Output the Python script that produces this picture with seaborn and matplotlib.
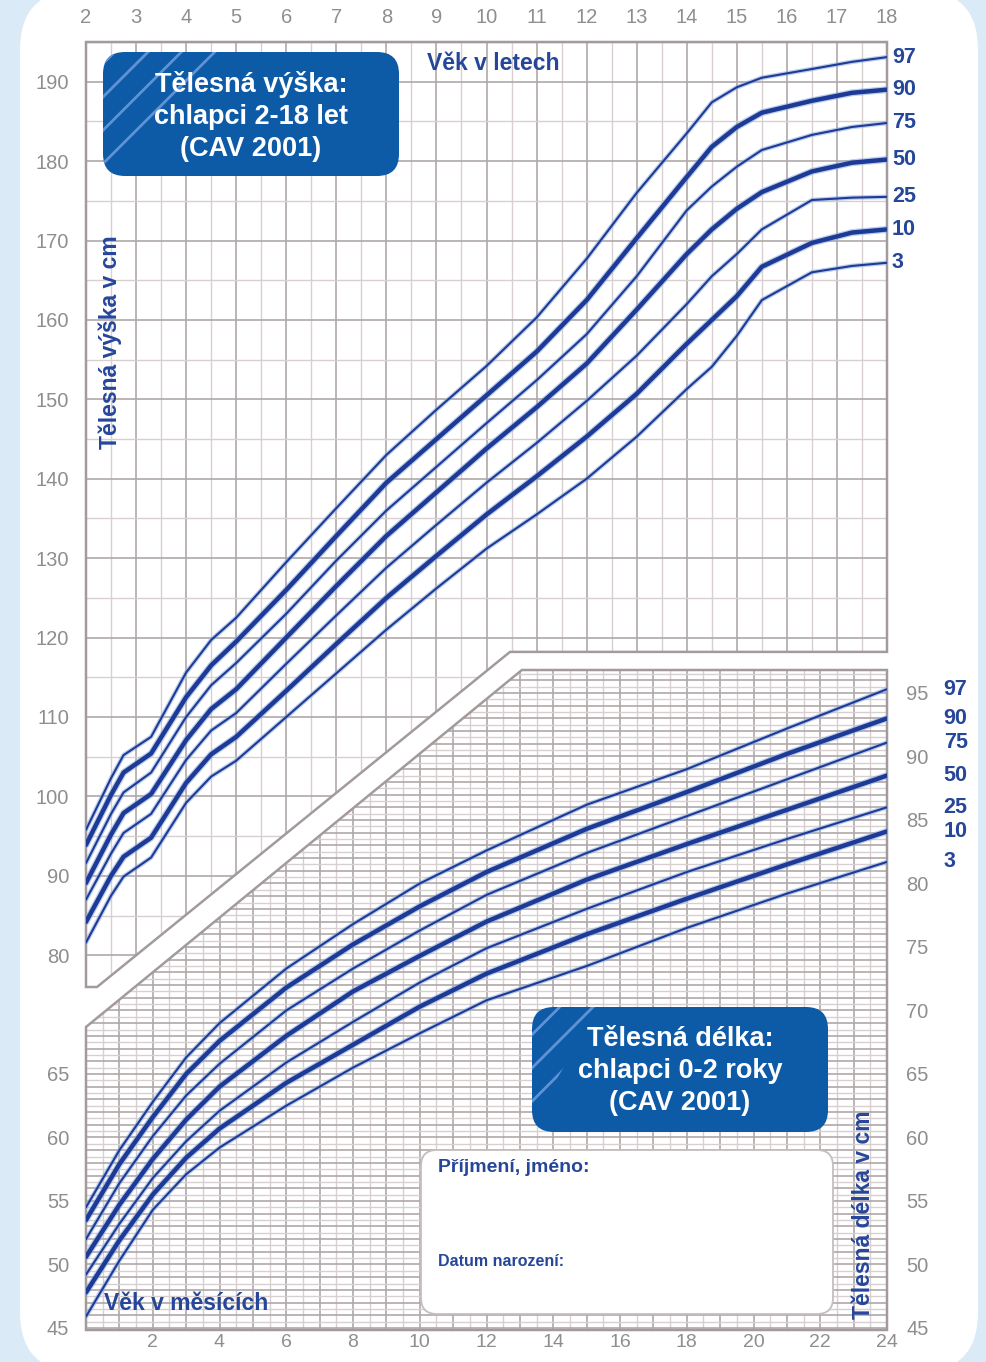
import numpy as np
import pandas as pd
import seaborn as sns
import matplotlib.pyplot as plt
import matplotlib.patheffects as pe
from matplotlib.patches import FancyBboxPatch, Polygon

sns.set_style("white")
plt.rcParams["font.family"] = ["Liberation Sans", "DejaVu Sans"]
plt.rcParams["hatch.linewidth"] = 2.0

pct_labels = ["97", "90", "75", "50", "25", "10", "3"]
thick = ["90", "50", "10"]

# height, boys 2-18 years (cm)
age_years = [2, 2.5, 2.75, 3.3, 4, 4.5, 5, 6, 7, 8, 9, 10, 11, 12, 13, 14, 14.5, 15, 15.5, 16.5, 17.3, 18]
h97 = [95.8, 102.3, 105.2, 107.5, 115.6, 119.7, 122.5, 129.5, 136.3, 143.0, 148.7, 154.2, 160.3, 167.7, 176.0, 183.5, 187.4, 189.3, 190.5, 191.6, 192.5, 193.1]
h90 = [93.9, 100.2, 103.0, 105.4, 112.5, 116.5, 119.5, 126.0, 132.8, 139.5, 145.0, 150.5, 156.0, 162.5, 170.3, 178.0, 181.8, 184.3, 186.1, 187.6, 188.6, 189.0]
h75 = [91.6, 97.8, 100.5, 103.0, 110.0, 114.0, 116.8, 123.0, 129.7, 136.0, 141.5, 147.0, 152.4, 158.2, 165.5, 173.8, 176.8, 179.3, 181.4, 183.3, 184.3, 184.8]
h50 = [89.1, 95.2, 97.9, 100.3, 107.1, 111.0, 113.5, 120.0, 126.5, 132.8, 138.3, 143.8, 149.0, 154.5, 161.3, 168.3, 171.4, 174.0, 176.1, 178.7, 179.8, 180.2]
h25 = [87.0, 92.8, 95.4, 97.8, 104.6, 108.3, 110.5, 116.7, 122.8, 128.8, 134.2, 139.5, 144.5, 149.8, 155.5, 162.0, 165.5, 168.3, 171.4, 175.1, 175.4, 175.5]
h10 = [84.2, 90.0, 92.4, 94.8, 101.7, 105.3, 107.5, 113.3, 119.2, 125.0, 130.3, 135.5, 140.3, 145.3, 150.7, 157.0, 160.0, 163.0, 166.7, 169.7, 171.0, 171.4]
h3 = [81.6, 87.5, 89.9, 92.3, 99.2, 102.5, 104.5, 110.0, 115.5, 121.0, 126.2, 131.2, 135.5, 140.0, 145.3, 151.3, 154.1, 158.0, 162.5, 166.0, 166.8, 167.2]

# length, boys 0-24 months (cm)
age_months = [0, 1, 2, 3, 4, 6, 8, 10, 12, 15, 18, 21, 24]
l97 = [54.5, 59.0, 62.8, 66.3, 69.0, 73.3, 76.8, 80.0, 82.6, 86.2, 89.0, 92.2, 95.3]
l90 = [53.5, 57.9, 61.6, 65.0, 67.6, 71.8, 75.2, 78.2, 80.9, 84.3, 87.2, 90.2, 93.0]
l75 = [52.0, 56.4, 60.1, 63.3, 65.8, 70.0, 73.3, 76.3, 79.1, 82.4, 85.3, 88.2, 91.1]
l50 = [50.6, 54.7, 58.3, 61.4, 64.0, 68.0, 71.5, 74.3, 77.0, 80.3, 83.1, 85.8, 88.5]
l25 = [49.2, 53.2, 56.8, 59.7, 62.1, 65.9, 69.1, 72.2, 74.9, 78.0, 80.9, 83.5, 86.0]
l10 = [47.8, 51.9, 55.5, 58.4, 60.7, 64.3, 67.3, 70.3, 72.9, 76.0, 78.8, 81.5, 84.1]
l3 = [45.9, 50.3, 54.3, 57.1, 59.2, 62.5, 65.5, 68.2, 70.8, 73.5, 76.5, 79.2, 81.7]

year_ticks = list(range(2, 19))
height_ticks = list(range(80, 191, 10))
month_ticks = list(range(2, 25, 2))
len_ticks_left = [45, 50, 55, 60, 65]
len_ticks_right = list(range(45, 96, 5))

W, H = 986, 1362
BLUE = "#1d3a96"
HALO = "#86a7dd"
GRID_MAJ = "#b0a8a8"
GRID_MIN = "#d8d0d0"
EDGE = "#a39b9b"
TICK_C = "#8e8e8e"
LABEL_C = "#26469a"
BOX_C = "#0d5aa7"

fig = plt.figure(figsize=(W / 100, H / 100), dpi=100)
fig.patch.set_facecolor("#dbeaf7")


def px_axes(z):
    ax = fig.add_axes([0, 0, 1, 1], zorder=z)
    ax.set_xlim(0, W)
    ax.set_ylim(H, 0)
    ax.axis("off")
    ax.patch.set_alpha(0)
    return ax


def chart_axes(x0, y0, x1, y1, xlim, ylim, z):
    ax = fig.add_axes([x0 / W, 1 - y1 / H, (x1 - x0) / W, (y1 - y0) / H], zorder=z)
    ax.set_xlim(*xlim)
    ax.set_ylim(*ylim)
    ax.patch.set_alpha(0)
    for s in ax.spines.values():
        s.set_visible(False)
    return ax


def draw_grid(ax, verts, xmin, xmaj, ymin, ymaj):
    clip = Polygon(verts, closed=True, transform=ax.transData)
    x0, x1 = ax.get_xlim()
    y0, y1 = ax.get_ylim()
    for vals, col, lw in [(xmin, GRID_MIN, 1.0), (xmaj, GRID_MAJ, 1.2)]:
        c = ax.vlines(vals, y0, y1, colors=col, lw=lw, zorder=1)
        c.set_clip_path(clip)
    for vals, col, lw in [(ymin, GRID_MIN, 1.0), (ymaj, GRID_MAJ, 1.2)]:
        c = ax.hlines(vals, x0, x1, colors=col, lw=lw, zorder=1)
        c.set_clip_path(clip)
    ax.add_patch(Polygon(verts, closed=True, fc="none", ec=EDGE, lw=1.8, zorder=2, clip_on=False))


def draw_curves(ax, df, xcol, ycol, label_dx):
    for p in pct_labels:
        sub = df[df.pct == p]
        lw = 3.2 if p in thick else 1.5
        sns.lineplot(data=sub, x=xcol, y=ycol, ax=ax, color=BLUE, linewidth=lw,
                     estimator=None, legend=False, zorder=3,
                     solid_joinstyle="round", solid_capstyle="round",
                     path_effects=[pe.Stroke(linewidth=lw + 1.8, foreground=HALO, alpha=0.55),
                                   pe.Normal()])
        end = sub.iloc[-1]
        ax.text(end[xcol] + label_dx, end[ycol], p, color=LABEL_C, fontsize=15.5,
                fontweight="bold", ha="left", va="center", clip_on=False)
    ax.set_xlabel("")
    ax.set_ylabel("")


bg = px_axes(0)
bg.add_patch(FancyBboxPatch((20, -10), 958, 1382, boxstyle="round,pad=0,rounding_size=60",
                            fc="white", ec="none"))

# upper chart: 2-18 years
ax_up = chart_axes(86, 42, 887, 987, (2, 18), (76, 195), 1)
up_verts = [(2, 195), (18, 195), (18, 118.2), (10.47, 118.2), (2.22, 76), (2, 76)]
draw_grid(ax_up, up_verts, np.arange(2.5, 18, 1), np.arange(2, 19, 1),
          np.arange(75, 196, 10), np.arange(80, 196, 10))

up_df = pd.DataFrame({
    "age": age_years * 7,
    "height": h97 + h90 + h75 + h50 + h25 + h10 + h3,
    "pct": np.repeat(pct_labels, len(age_years)),
})
draw_curves(ax_up, up_df, "age", "height", 0.1)
ax_up.set_xlim(2, 18)
ax_up.set_ylim(76, 195)
ax_up.set_xticks(year_ticks)
ax_up.set_yticks(height_ticks)
ax_up.tick_params(axis="x", top=True, labeltop=True, bottom=False, labelbottom=False,
                  length=0, pad=11, labelsize=14.5, labelcolor=TICK_C)
ax_up.tick_params(axis="y", length=0, pad=12, labelsize=14.5, labelcolor=TICK_C)

# lower chart: 0-24 months
ax_lo = chart_axes(86, 670, 887, 1330, (0, 24), (44.84, 96.81), 2)
lo_verts = [(0, 44.84), (24, 44.84), (24, 96.81), (13.06, 96.81), (0, 68.7)]
draw_grid(ax_lo, lo_verts, np.arange(0.5, 24, 1), np.arange(0, 25, 1),
          np.arange(45.5, 97, 1), np.arange(45, 97, 1))

lo_df = pd.DataFrame({
    "month": age_months * 7,
    "length": l97 + l90 + l75 + l50 + l25 + l10 + l3,
    "pct": np.repeat(pct_labels, len(age_months)),
})
draw_curves(ax_lo, lo_df, "month", "length", 1.7)
ax_lo.set_xlim(0, 24)
ax_lo.set_ylim(44.84, 96.81)
ax_lo.set_xticks(month_ticks)
ax_lo.set_yticks(len_ticks_left)
ax_lo.tick_params(axis="y", length=0, pad=12, labelsize=14.5, labelcolor=TICK_C)
ax_lo.tick_params(axis="x", length=0, pad=3, labelsize=14, labelcolor=TICK_C)

ax_r = ax_lo.twinx()
ax_r.set_ylim(44.84, 96.81)
ax_r.set_yticks(len_ticks_right)
ax_r.tick_params(length=0, pad=14, labelsize=14.5, labelcolor=TICK_C)
ax_r.patch.set_alpha(0)
for s in ax_r.spines.values():
    s.set_visible(False)

# overlay: title boxes, name box, axis titles
ov = px_axes(10)


def title_box(x, y, w, h, text, tri):
    ov.add_patch(FancyBboxPatch((x, y), w, h, boxstyle="round,pad=0,rounding_size=22",
                                fc=BOX_C, ec="none"))
    hb = FancyBboxPatch((x, y), w, h, boxstyle="round,pad=0,rounding_size=22",
                        fc="none", ec="#5f93d6", hatch="/", lw=0)
    ov.add_patch(hb)
    hb.set_clip_path(Polygon(tri, closed=True, transform=ov.transData))
    ov.text(x + w / 2, y + h / 2 + 2, text, color="white", fontsize=19.5, fontweight="bold",
            ha="center", va="center", linespacing=1.3)


title_box(103, 52, 296, 124, "Tělesná výška:\nchlapci 2-18 let\n(CAV 2001)",
          [(100, 50), (240, 50), (100, 175)])
title_box(532, 1007, 296, 125, "Tělesná délka:\nchlapci 0-2 roky\n(CAV 2001)",
          [(530, 1005), (600, 1005), (530, 1125)])

ov.add_patch(FancyBboxPatch((421, 1150), 412, 164, boxstyle="round,pad=0,rounding_size=16",
                            fc="white", ec="#c6bebe", lw=1.3))
ov.text(438, 1168, "Příjmení, jméno:", color=LABEL_C, fontsize=14, fontweight="bold",
        ha="left", va="center")
ov.text(438, 1262, "Datum narození:", color=LABEL_C, fontsize=11.5, fontweight="bold",
        ha="left", va="center")

ov.text(493, 64, "Věk v letech", color=LABEL_C, fontsize=16.5, fontweight="bold",
        ha="center", va="center")
ov.text(110, 342, "Tělesná výška v cm", color=LABEL_C, fontsize=16.5, fontweight="bold",
        rotation=90, ha="center", va="center")
ov.text(104, 1303, "Věk v měsících", color=LABEL_C, fontsize=16.5, fontweight="bold",
        ha="left", va="center")
ov.text(863, 1215, "Tělesná délka v cm", color=LABEL_C, fontsize=16.5, fontweight="bold",
        rotation=90, ha="center", va="center")

fig.savefig("out.png", dpi=100)
